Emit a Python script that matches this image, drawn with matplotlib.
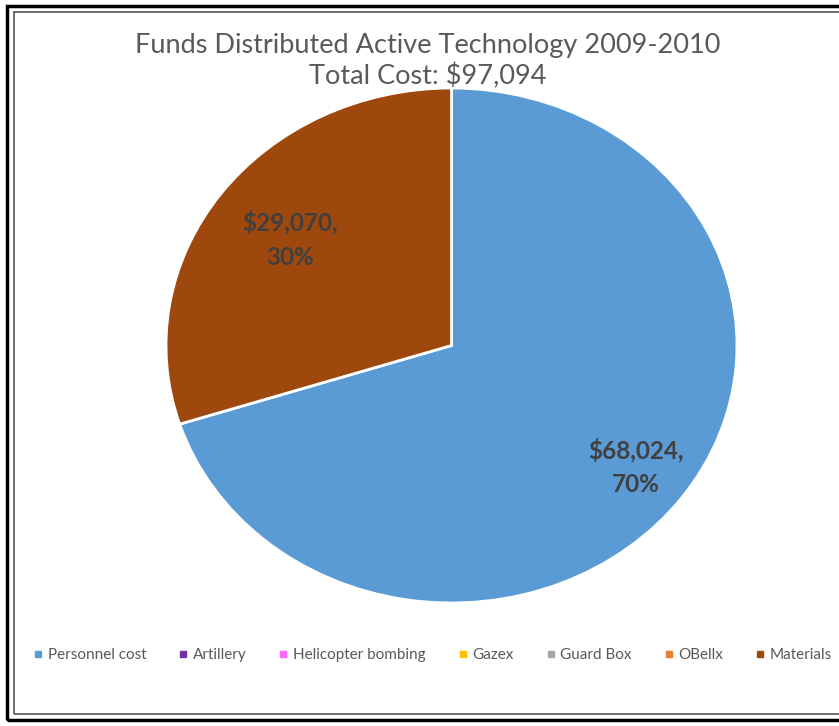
import numpy as np
import matplotlib.pyplot as plt
from matplotlib.patches import Rectangle
from matplotlib.lines import Line2D

plt.rcParams['font.family'] = ['Lato', 'DejaVu Sans']

# data
categories = ['Personnel cost', 'Artillery', 'Helicopter bombing', 'Gazex',
              'Guard Box', 'OBellx', 'Materials']
values = [68024, 0, 0, 0, 0, 0, 29070]
colors = ['#5B9BD5', '#7030A0', '#FF66FF', '#FFC000', '#A5A5A5', '#ED7D31', '#9E480E']
total = sum(values)

fig = plt.figure(figsize=(8.39, 7.26), dpi=100)
W, H = 839, 726

# picture frame
fig.add_artist(Rectangle((7 / W, 6 / H), 1.2, (720 - 6) / H, transform=fig.transFigure,
                         fill=False, edgecolor='black', linewidth=2.5))
fig.add_artist(Rectangle((14 / W, 12 / H), 1.2, (714 - 12) / H, transform=fig.transFigure,
                         fill=False, edgecolor='#555555', linewidth=1.2))

# pie axes (slightly stretched horizontally as in the source)
ax = fig.add_axes([166 / W, 123 / H, (737 - 166) / W, (603 - 88) / H])

shown = [(c, v, col) for c, v, col in zip(categories, values, colors) if v > 0]
wedges, _ = ax.pie([v for _, v, _ in shown], colors=[col for _, _, col in shown],
                   startangle=90, counterclock=False,
                   wedgeprops=dict(edgecolor='white', linewidth=2))
ax.set_aspect('auto')
ax.set_xlim(-1, 1)
ax.set_ylim(-1, 1)

label_dist = {'Personnel cost': 0.8, 'Materials': 0.7}
for w, (c, v, _) in zip(wedges, shown):
    ang = np.deg2rad((w.theta1 + w.theta2) / 2)
    d = label_dist.get(c, 0.7)
    ax.text(d * np.cos(ang), d * np.sin(ang),
            f'${v:,},\n{v / total * 100:.0f}%', ha='center', va='center',
            fontsize=17.5, fontweight='bold', color='#404040', linespacing=1.6)

fig.text(0.51, 1 - 45 / H, 'Funds Distributed Active Technology 2009-2010',
         ha='center', va='center', fontsize=19.5, color='#595959')
fig.text(0.51, 1 - 76 / H, f'Total Cost: ${total:,}',
         ha='center', va='center', fontsize=19.5, color='#595959')

handles = [Line2D([], [], marker='s', linestyle='', markersize=4.5,
                  markerfacecolor=col, markeredgecolor=col) for col in colors]
fig.legend(handles, categories, loc='center', bbox_to_anchor=(432 / W, 1 - 655 / H),
           ncol=7, frameon=False, fontsize=11, labelcolor='#595959',
           handletextpad=0.25, columnspacing=2.0, handlelength=0.8)

fig.savefig('out.png', dpi=100)
